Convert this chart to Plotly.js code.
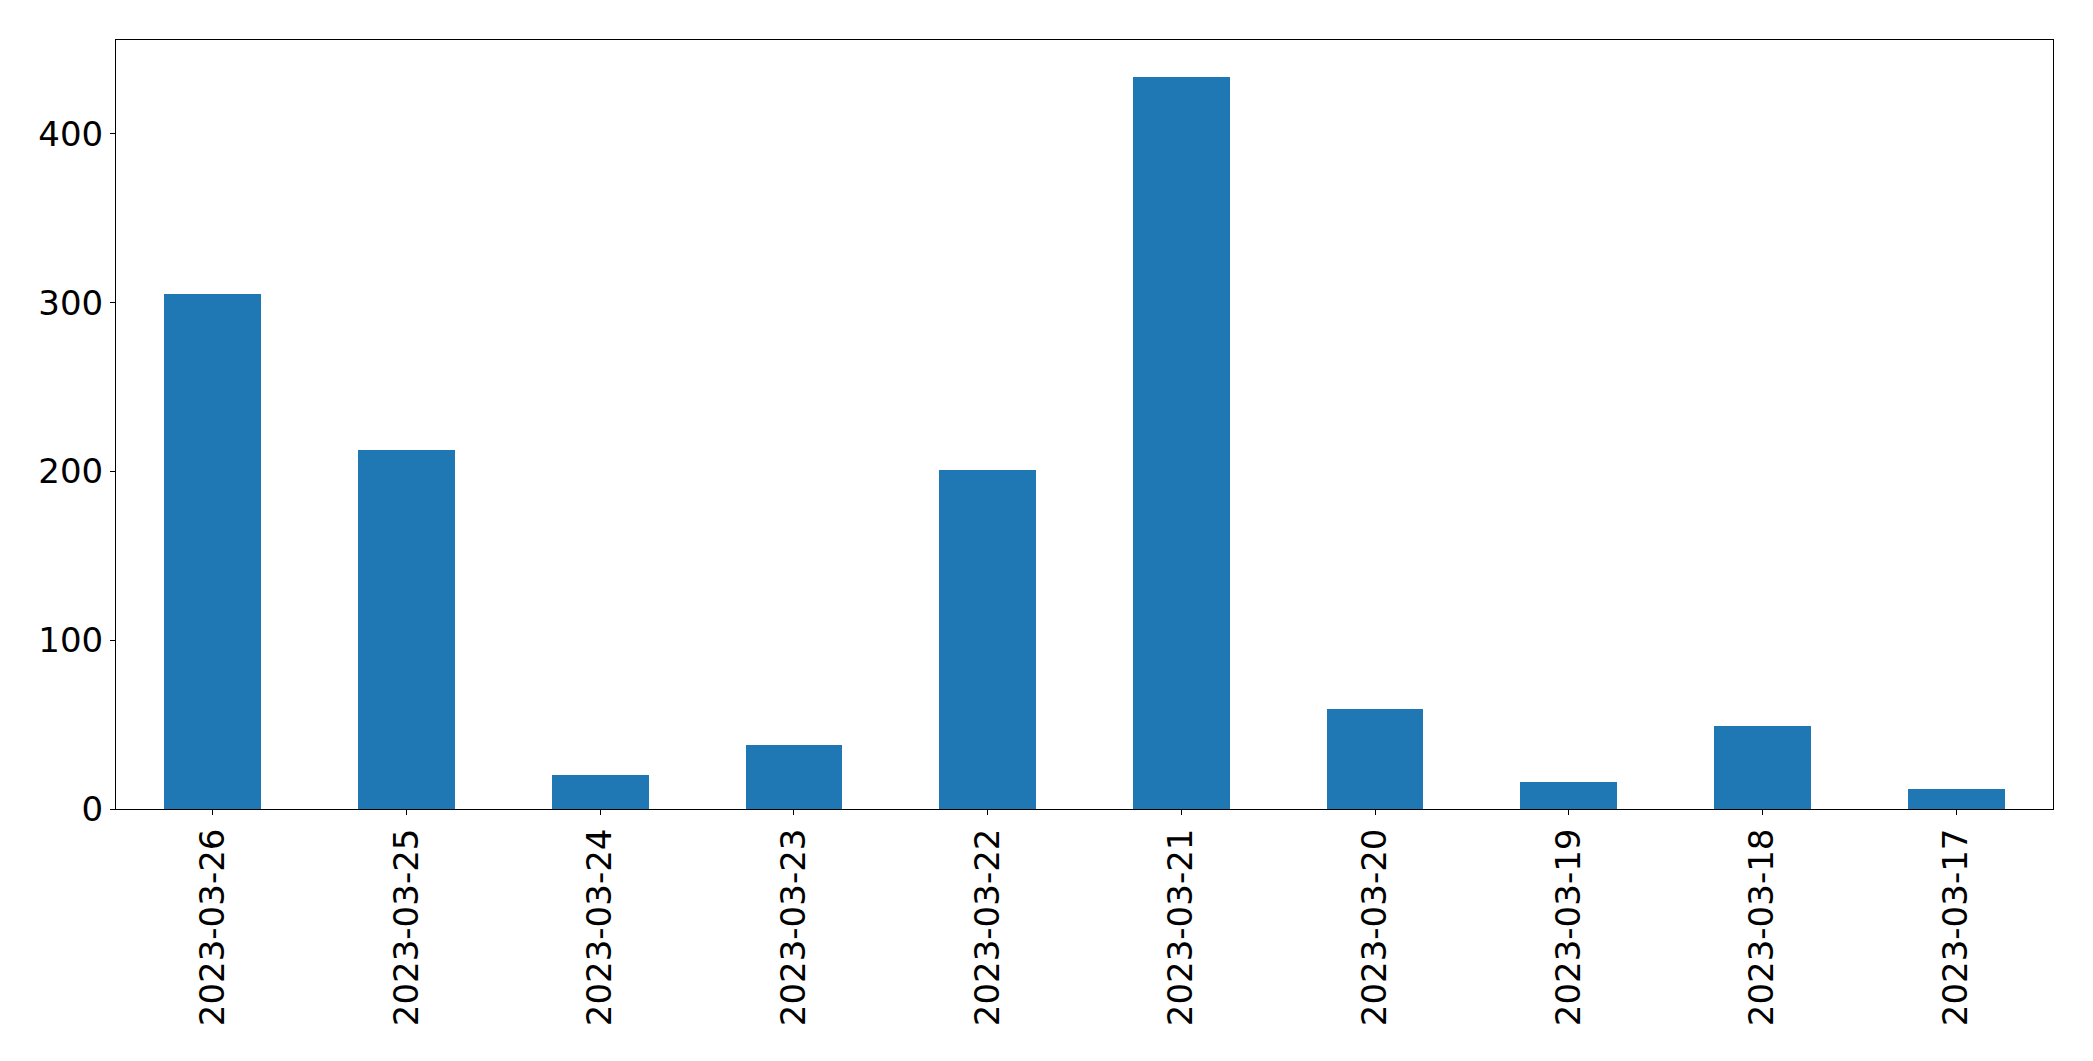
<!DOCTYPE html>
<html>
<head>
<meta charset="utf-8">
<script src="https://cdn.plot.ly/plotly-3.0.1.min.js"></script>
<style>html,body{margin:0;padding:0;background:#fff;}#chart{width:2093px;height:1061px;}</style>
</head>
<body>
<div id="chart"></div>
<script>
const dates = ["2023-03-26","2023-03-25","2023-03-24","2023-03-23","2023-03-22","2023-03-21","2023-03-20","2023-03-19","2023-03-18","2023-03-17"];
const counts = [305, 213, 20, 38, 201, 434, 59, 16, 49, 12];
const yTicks = [0, 100, 200, 300, 400];

const maxVal = Math.max(...counts);
const trace = {
  type: 'bar',
  x: dates,
  y: counts,
  width: 0.5,
  marker: {color: '#1f77b4', line: {width: 0}},
  hoverinfo: 'x+y'
};
const axisFont = {family: 'DejaVu Sans, sans-serif', size: 34, color: '#000'};
const layout = {
  width: 2093,
  height: 1061,
  margin: {l: 116, r: 40, t: 40, b: 252, pad: 0},
  paper_bgcolor: '#fff',
  plot_bgcolor: '#fff',
  showlegend: false,
  bargap: 0,
  xaxis: {
    type: 'category',
    range: [-0.5, dates.length - 0.5],
    tickangle: -90,
    tickfont: axisFont,
    ticks: 'outside',
    ticklen: 5,
    tickwidth: 1,
    tickcolor: '#000',
    showline: true,
    linecolor: '#000',
    linewidth: 1,
    mirror: true,
    showgrid: false,
    zeroline: false
  },
  yaxis: {
    range: [0, maxVal * 1.05],
    tickvals: yTicks,
    ticktext: yTicks.map(String),
    tickfont: axisFont,
    ticks: 'outside',
    ticklen: 5,
    tickwidth: 1,
    tickcolor: '#000',
    showline: true,
    linecolor: '#000',
    linewidth: 1,
    mirror: true,
    showgrid: false,
    zeroline: false
  }
};
Plotly.newPlot('chart', [trace], layout, {displayModeBar: false, staticPlot: true});
</script>
</body>
</html>
